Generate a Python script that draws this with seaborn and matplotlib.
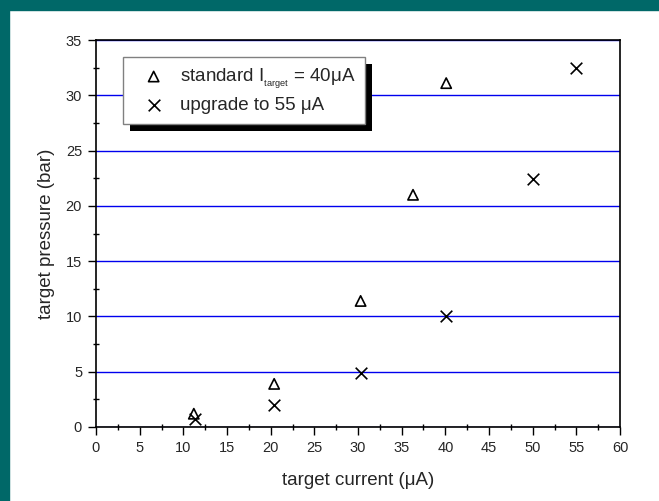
import numpy as np
import pandas as pd
import matplotlib
matplotlib.use("Agg")
import matplotlib.pyplot as plt
from matplotlib.patches import Rectangle
from matplotlib.ticker import MultipleLocator
import seaborn as sns

# data
std_current = [11.2, 20.4, 30.3, 36.3, 40.1]
std_pressure = [1.2, 3.9, 11.4, 21.0, 31.1]
upg_current = [11.3, 20.4, 30.3, 40.1, 50.0, 55.0]
upg_pressure = [0.7, 2.0, 4.9, 10.0, 22.4, 32.5]

std_label = r"standard I$_{_{\mathregular{target}}}$ = 40μA"
upg_label = "upgrade to 55 μA"

sns.set_style("white")
plt.rcParams['font.family'] = ['Liberation Sans', 'DejaVu Sans']
plt.rcParams['mathtext.default'] = 'regular'

fig = plt.figure(figsize=(6.59, 5.01), dpi=100)
fig.patch.set_facecolor('white')
teal = '#006868'
fig.patches.append(Rectangle((0, 1 - 10/501), 1, 10/501, transform=fig.transFigure,
                             color=teal, zorder=-10))
fig.patches.append(Rectangle((0, 0), 9/659, 1, transform=fig.transFigure,
                             color=teal, zorder=-10))

ax = fig.add_axes([96/659, 74/501, 524/659, 387/501])

sns.scatterplot(x=std_current, y=std_pressure, marker='^', s=55,
                facecolors='none', edgecolor='black', linewidth=1.2,
                label=std_label, ax=ax, zorder=3)
sns.scatterplot(x=upg_current, y=upg_pressure, marker='x', s=70,
                color='black', linewidth=1.2, label=upg_label, ax=ax, zorder=3)

ax.set_xlim(0, 60)
ax.set_ylim(0, 35)
ax.xaxis.set_major_locator(MultipleLocator(5))
ax.xaxis.set_minor_locator(MultipleLocator(2.5))
ax.yaxis.set_major_locator(MultipleLocator(5))
ax.yaxis.set_minor_locator(MultipleLocator(2.5))

ax.tick_params(which='major', direction='out', length=6, width=1, color='black',
               labelsize=10.5, pad=4, bottom=True, left=True, top=False, right=False)
ax.tick_params(which='minor', direction='inout', length=5, width=1, color='black',
               bottom=True, left=True, top=False, right=False)

for sp in ax.spines.values():
    sp.set_color('black')
    sp.set_linewidth(1.2)

ax.set_axisbelow(True)
ax.grid(axis='y', which='major', color='#0000ee', linewidth=1)
ax.grid(axis='x', visible=False)

ax.set_xlabel('target current (μA)', fontsize=13.5, labelpad=12)
ax.set_ylabel('target pressure (bar)', fontsize=13.5, labelpad=8)

leg = ax.legend(loc='upper left', bbox_to_anchor=(0.051, 0.956), borderaxespad=0,
                fancybox=False, frameon=True, edgecolor='#808080', framealpha=1,
                fontsize=13.5, borderpad=0.5, handlelength=2.3, handletextpad=0.25,
                labelspacing=0.35)
leg.get_frame().set_linewidth(1)
leg.set_zorder(10)

# black drop shadow behind the legend box
fig.canvas.draw()
bb = leg.get_window_extent()
shadow = Rectangle((bb.x0 + 7, bb.y0 - 7), bb.width, bb.height, transform=None,
                   facecolor='black', edgecolor='none', zorder=9)
ax.add_artist(shadow)

fig.savefig('out.png', dpi=100, facecolor=fig.get_facecolor())
